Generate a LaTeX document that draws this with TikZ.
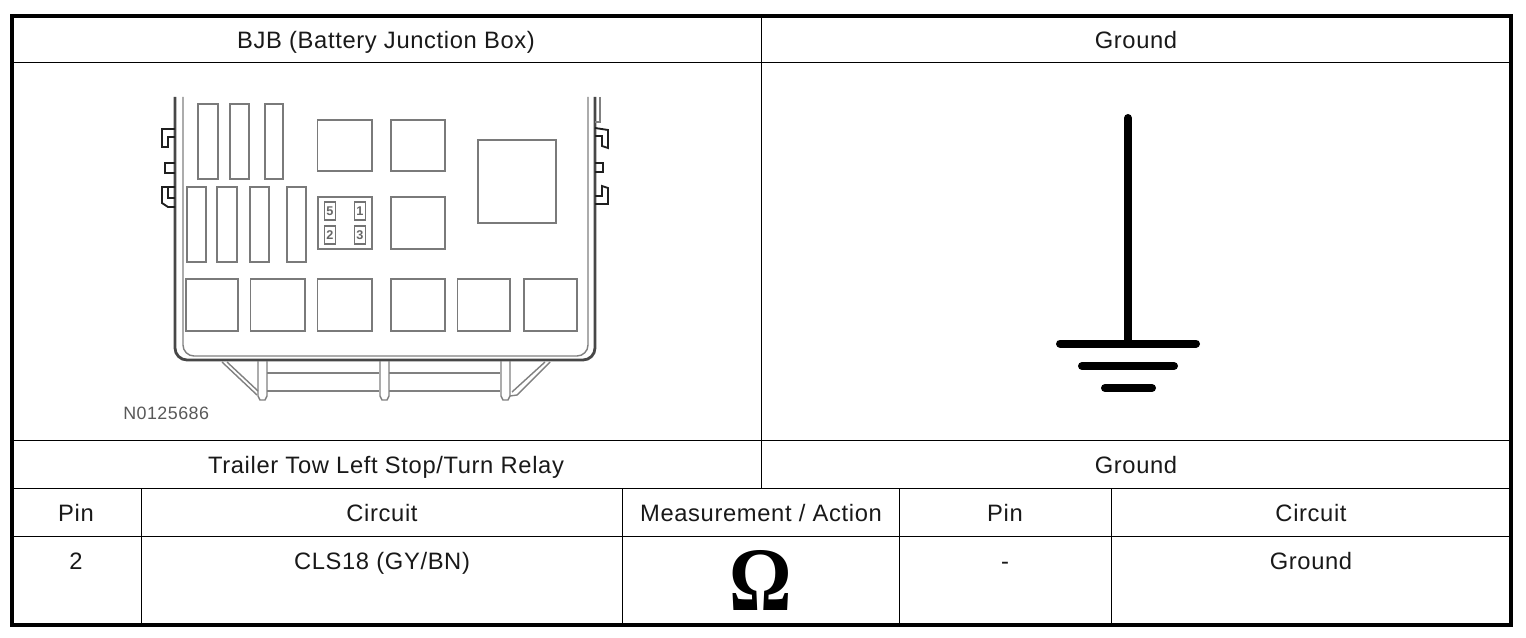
\documentclass[tikz,border=0pt]{standalone}
\usepackage{graphicx}
\usepackage{fontspec}
\setmainfont{Liberation Sans}
\newfontfamily\spacedfont[LetterSpace=2.7]{Liberation Sans}
\newfontfamily\omegafont{Liberation Serif}
\tikzset{
  x=0.75pt,y=-0.75pt,
  gridline/.style={line width=0.75pt,black},
  frameline/.style={line width=3.2pt,black},
  cell/.style={anchor=base,inner sep=0pt,font=\spacedfont\fontsize{17.8pt}{20pt}\selectfont,text=black!90},
  fuse/.style={draw=black!52,line width=1.25pt,fill=white},
  pinbox/.style={draw=black!55,line width=1.2pt},
  casing/.style={draw=black!72,line width=2.1pt},
  casingthin/.style={draw=black!50,line width=1.05pt},
  clip line/.style={draw=black!88,line width=1.4pt},
  groundbar/.style={line width=6pt,line cap=round,black},
  tag/.style={anchor=base west,inner sep=0pt,font=\spacedfont\fontsize{13.4pt}{14pt}\selectfont,text=black!65},
  pinlabel/.style={inner sep=0pt,font=\bfseries\fontsize{9.5pt}{10pt}\selectfont,text=black!60}
}
\newcommand{\fusebox}[4]{\draw[fuse] (#1,#2) rectangle (#3,#4);}
\begin{document}
\begin{tikzpicture}
\useasboundingbox (0,0) rectangle (1526,638);
\fill[white] (0,0) rectangle (1526,638);
% grid
\draw[gridline] (12,63) -- (1511,63);
\draw[gridline] (12,440) -- (1511,440);
\draw[gridline] (12,488) -- (1511,488);
\draw[gridline] (12,536) -- (1511,536);
\draw[gridline] (761,16) -- (761,488);
\foreach \vx in {141,622,899,1111} \draw[gridline] (\vx,488) -- (\vx,625);
\draw[frameline] (12,16) rectangle (1511,625);
% text
\node[cell] (t1) at (386,48.5) {BJB (Battery Junction Box)};
\node[cell] (t2) at (1136,48.5) {Ground};
\node[cell] (t3) at (386,473.5) {Trailer Tow Left Stop/Turn Relay};
\node[cell] (t4) at (1136,473.5) {Ground};
\node[cell] (h1) at (76,521.5) {Pin};
\node[cell] (h2) at (382,521.5) {Circuit};
\node[cell] (h3) at (761,521.5) {Measurement / Action};
\node[cell] (h4) at (1005,521.5) {Pin};
\node[cell] (h5) at (1311,521.5) {Circuit};
\node[cell] (d1) at (76,569.5) {2};
\node[cell] (d2) at (382,569.5) {CLS18 (GY/BN)};
\node[anchor=base,inner sep=0pt,font=\omegafont\bfseries\fontsize{68pt}{70pt}\selectfont] (d3) at (761,610.5) {\scalebox{0.86}[1]{Ω}};
\node[cell] (d4) at (1005,569.5) {-};
\node[cell] (d5) at (1311,569.5) {Ground};
% ground symbol
\draw[groundbar] (1128,118) -- (1128,343);
\draw[groundbar] (1060,343.5) -- (1196,343.5);
\draw[groundbar] (1082,366) -- (1174,366);
\draw[groundbar] (1105,388) -- (1152,388);
% casing
\draw[casing] (175,97) -- (175,348) arc[start angle=180,end angle=90,radius=12] -- (583,360) arc[start angle=90,end angle=0,radius=12] -- (595,97);
\draw[casingthin] (183,97) -- (183,345) arc[start angle=180,end angle=90,radius=11] -- (577,356) arc[start angle=90,end angle=0,radius=11] -- (588,97);
\draw[casingthin] (600,97) -- (600,122) -- (595,122);
% clips
\draw[clip line] (175,129) -- (162,129) -- (162,147) -- (168,147) -- (168,137) -- (175,137);
\draw[clip line] (175,163) -- (165,163) -- (165,173) -- (175,173);
\draw[clip line] (175,187) -- (162,187) -- (162,203) -- (168,207) -- (175,207);
\draw[clip line] (168,187) -- (168,198) -- (175,198);
\draw[clip line] (595,128) -- (608,130) -- (608,148) -- (602,146) -- (602,136) -- (595,136);
\draw[clip line] (595,163) -- (603,163) -- (603,172) -- (595,172);
\draw[clip line] (595,196) -- (602,196) -- (602,186) -- (608,188) -- (608,204) -- (595,204);
% fuses
\fusebox{198}{104}{218}{179}
\fusebox{230}{104}{249}{179}
\fusebox{265}{104}{283}{179}
\fusebox{187}{187}{206}{262}
\fusebox{217}{187}{237}{262}
\fusebox{250}{187}{269}{262}
\fusebox{287}{187}{306}{262}
% relays
\fusebox{317.5}{120}{372}{171}
\fusebox{391}{120}{445}{171}
\fusebox{391}{197}{445}{249}
\fusebox{478}{140}{556}{223}
\fusebox{186}{279}{238}{331}
\fusebox{250.5}{279}{305}{331}
\fusebox{317.5}{279}{372}{331}
\fusebox{391}{279}{445}{331}
\fusebox{457.5}{279}{510}{331}
\fusebox{524}{279}{577}{331}
% connector with pins
\draw[fuse,line width=1.8pt] (318,197) rectangle (372,249);
\foreach \px/\py/\lab in {330/211/5,360/211/1,330/235/2,360/235/3}{
  \draw[pinbox] (\px-5.5,\py-9) rectangle (\px+5.5,\py+9);
  \node[pinlabel] (p\lab) at (\px,\py) {\lab};
}
% legs and bars
\draw[casingthin] (267,373) -- (379,373);
\draw[casingthin] (267,391) -- (379,391);
\draw[casingthin] (389,373) -- (500,373);
\draw[casingthin] (389,391) -- (500,391);
\foreach \lx in {258,380,501}{
  \draw[casingthin] (\lx,361) -- (\lx,396) -- (\lx+2,400) -- (\lx+7,400) -- (\lx+9,396) -- (\lx+9,361);
}
\draw[casingthin] (222,362) -- (257,395);
\draw[casingthin] (227,362) -- (258,391);
\draw[casingthin] (550,362) -- (517,395) -- (510,396);
\draw[casingthin] (545,362) -- (512,392);
\node[tag] (code) at (123,419) {N0125686};
\end{tikzpicture}
\end{document}
